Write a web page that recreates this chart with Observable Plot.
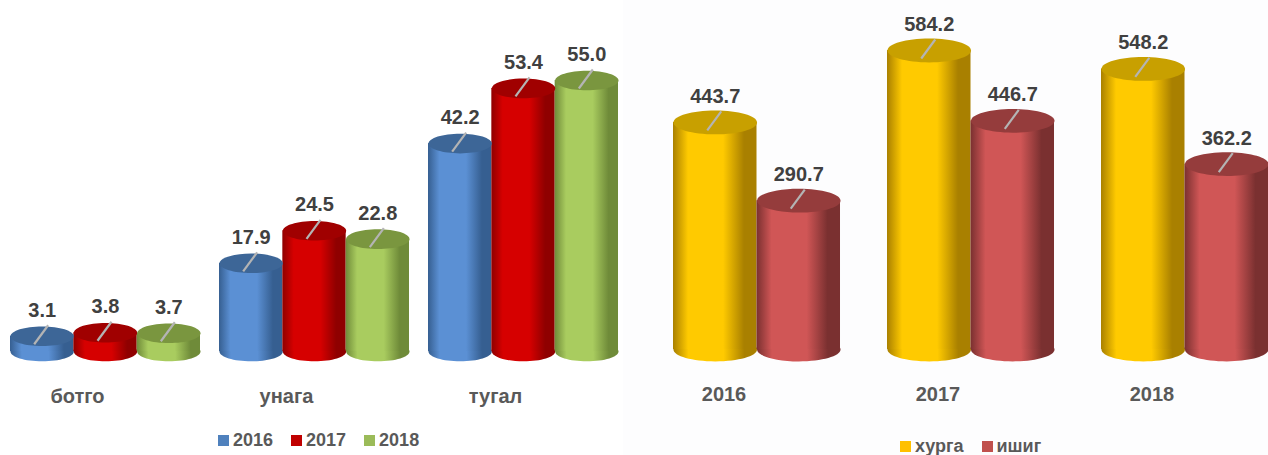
<!DOCTYPE html>
<html>
<head>
<meta charset="utf-8">
<script src="https://cdn.jsdelivr.net/npm/d3@7"></script>
<script src="https://cdn.jsdelivr.net/npm/@observablehq/plot@0.6"></script>
<style>
  html, body { margin: 0; padding: 0; background: #ffffff; }
  #wrap { position: relative; width: 1268px; height: 455px; overflow: hidden; font-family: "Liberation Sans", Arial, sans-serif; }
  #rightbg { position: absolute; left: 623px; top: 0; width: 645px; height: 455px; background: #fdfdfe; }
  #left, #right { position: absolute; top: 0; }
  #left { left: 0; }
  #right { left: 640px; }
  .legend { position: absolute; display: flex; align-items: center; font-weight: bold; font-size: 18px; color: #595959; white-space: nowrap; }
  .legend .sw { width: 11px; height: 11px; display: inline-block; margin-right: 4px; }
  .legend .item { display: inline-flex; align-items: center; margin-right: 18px; }
</style>
</head>
<body>
<div id="wrap">
  <div id="rightbg"></div>
  <div id="left"></div>
  <div id="right"></div>
  <div class="legend" id="legL" style="left:218px; top:430px;"></div>
  <div class="legend" id="legR" style="left:900px; top:436px;"></div>
</div>
<script>
// ---------- data ----------
const leftGroups = ["ботго", "унага", "тугал"];
const leftSeries = ["2016", "2017", "2018"];
const s2016 = [3.1, 17.9, 42.2];
const s2017 = [3.8, 24.5, 53.4];
const s2018 = [3.7, 22.8, 55.0];

const rightGroups = ["2016", "2017", "2018"];
const rightSeries = ["хурга", "ишиг"];
const khurga = [443.7, 584.2, 548.2];
const ishig = [290.7, 446.7, 362.2];

// ---------- styles ----------
const leftStyles = [
  {swatch: "#4f81bd", dark: "#365f91", mid: "#5b90d4", cap: "#3d6697"},
  {swatch: "#c00000", dark: "#8f0000", mid: "#d60000", cap: "#a00000"},
  {swatch: "#9bbb59", dark: "#6f8b39", mid: "#a9cc5f", cap: "#7a963f"}
];
const rightStyles = [
  {swatch: "#ffc000", dark: "#a98000", mid: "#ffca00", cap: "#c8a000"},
  {swatch: "#c0504d", dark: "#7a3030", mid: "#d05656", cap: "#953c3c"}
];

// gradient defs
const NS = "http://www.w3.org/2000/svg";
const defsSvg = document.createElementNS(NS, "svg");
defsSvg.setAttribute("width", 0); defsSvg.setAttribute("height", 0);
defsSvg.style.position = "absolute";
const defs = document.createElementNS(NS, "defs");
defsSvg.appendChild(defs);
function addGrad(id, st) {
  const g = document.createElementNS(NS, "linearGradient");
  g.setAttribute("id", id);
  g.setAttribute("x1", "0"); g.setAttribute("x2", "1"); g.setAttribute("y1", "0"); g.setAttribute("y2", "0");
  [[0, st.dark], [0.18, st.mid], [0.6, st.mid], [0.85, st.dark], [1, st.dark]].forEach(([o, c]) => {
    const s = document.createElementNS(NS, "stop");
    s.setAttribute("offset", o);
    s.setAttribute("stop-color", c);
    g.appendChild(s);
  });
  defs.appendChild(g);
}
leftStyles.forEach((st, i) => addGrad("gL" + i, st));
rightStyles.forEach((st, i) => addGrad("gR" + i, st));
document.body.appendChild(defsSvg);

// symbols
function ellipseSymbol(ratio) {
  return {
    draw(ctx, size) {
      const rx = Math.sqrt(size / Math.PI), ry = rx * ratio, k = 0.5522847498;
      ctx.moveTo(rx, 0);
      ctx.bezierCurveTo(rx, ry * k, rx * k, ry, 0, ry);
      ctx.bezierCurveTo(-rx * k, ry, -rx, ry * k, -rx, 0);
      ctx.bezierCurveTo(-rx, -ry * k, -rx * k, -ry, 0, -ry);
      ctx.bezierCurveTo(rx * k, -ry, rx, -ry * k, rx, 0);
      ctx.closePath();
    }
  };
}
const leader = {
  draw(ctx) { ctx.moveTo(-8, 8); ctx.lineTo(6, -11); }
};

function cylinderChart({groups, series, values, styles, prefix, width, height, marginLeft, marginRight, marginTop, marginBottom, yMax, fxPad, ratio, labelDx}) {
  const rows = groups.flatMap((g, i) => series.map((s, j) => ({group: g, series: s, value: values[j][i], idx: j})));
  const fxScale = d3.scaleBand(groups, [marginLeft, width - marginRight]).paddingInner(fxPad).paddingOuter(0);
  const rx = fxScale.bandwidth() / series.length / 2;
  const ell = ellipseSymbol(ratio);
  const fmt = d3.format(".1f");
  return Plot.plot({
    width, height, marginLeft, marginRight, marginTop, marginBottom,
    style: {fontFamily: "'Liberation Sans', Arial, sans-serif", background: "transparent", overflow: "visible"},
    facet: {data: rows, x: "group"},
    fx: {domain: groups, paddingInner: fxPad, paddingOuter: 0, axis: null, round: false, label: null},
    x: {domain: series, padding: 0, axis: null, round: false, label: null},
    y: {domain: [0, yMax], axis: null},
    color: {type: "identity"},
    marks: [
      Plot.dot(rows, {x: "series", y: () => 0, r: rx, symbol: ell, fill: d => `url(#${prefix}${d.idx})`, stroke: "none"}),
      Plot.barY(rows, {x: "series", y: "value", fill: d => `url(#${prefix}${d.idx})`}),
      Plot.dot(rows, {x: "series", y: "value", r: rx, symbol: ell, fill: d => styles[d.idx].cap, stroke: "none"}),
      Plot.dot(rows, {x: "series", y: "value", r: 3, symbol: leader, fill: "none", stroke: "#b4b4b4", strokeWidth: 2.2}),
      Plot.text(rows, {x: "series", y: "value", text: d => fmt(d.value), dy: -26, fill: "#404040", fontWeight: "bold", fontSize: 20}),
      Plot.text(rows, {filter: d => d.idx === 0, frameAnchor: "bottom", lineAnchor: "middle", text: "group", dx: labelDx, dy: 45, fill: "#595959", fontWeight: "bold", fontSize: 20})
    ]
  });
}

const leftPlot = cylinderChart({
  groups: leftGroups, series: leftSeries, values: [s2016, s2017, s2018], styles: leftStyles, prefix: "gL",
  width: 640, height: 420, marginLeft: 10, marginRight: 22, marginTop: 80, marginBottom: 69, yMax: 55,
  fxPad: 0.0909, ratio: 0.31, labelDx: -28
});
const rightPlot = cylinderChart({
  groups: rightGroups, series: rightSeries, values: [khurga, ishig], styles: rightStyles, prefix: "gR",
  width: 628, height: 420, marginLeft: 33, marginRight: 0, marginTop: 50, marginBottom: 71, yMax: 584.2,
  fxPad: 0.2196, ratio: 0.285, labelDx: -33
});
document.getElementById("left").appendChild(leftPlot);
document.getElementById("right").appendChild(rightPlot);

function legend(el, names, styles) {
  names.forEach((n, i) => {
    const item = document.createElement("span");
    item.className = "item";
    const sw = document.createElement("span");
    sw.className = "sw";
    sw.style.background = styles[i].swatch;
    item.appendChild(sw);
    item.appendChild(document.createTextNode(n));
    el.appendChild(item);
  });
}
legend(document.getElementById("legL"), leftSeries, leftStyles);
legend(document.getElementById("legR"), rightSeries, rightStyles);
</script>
</body>
</html>
